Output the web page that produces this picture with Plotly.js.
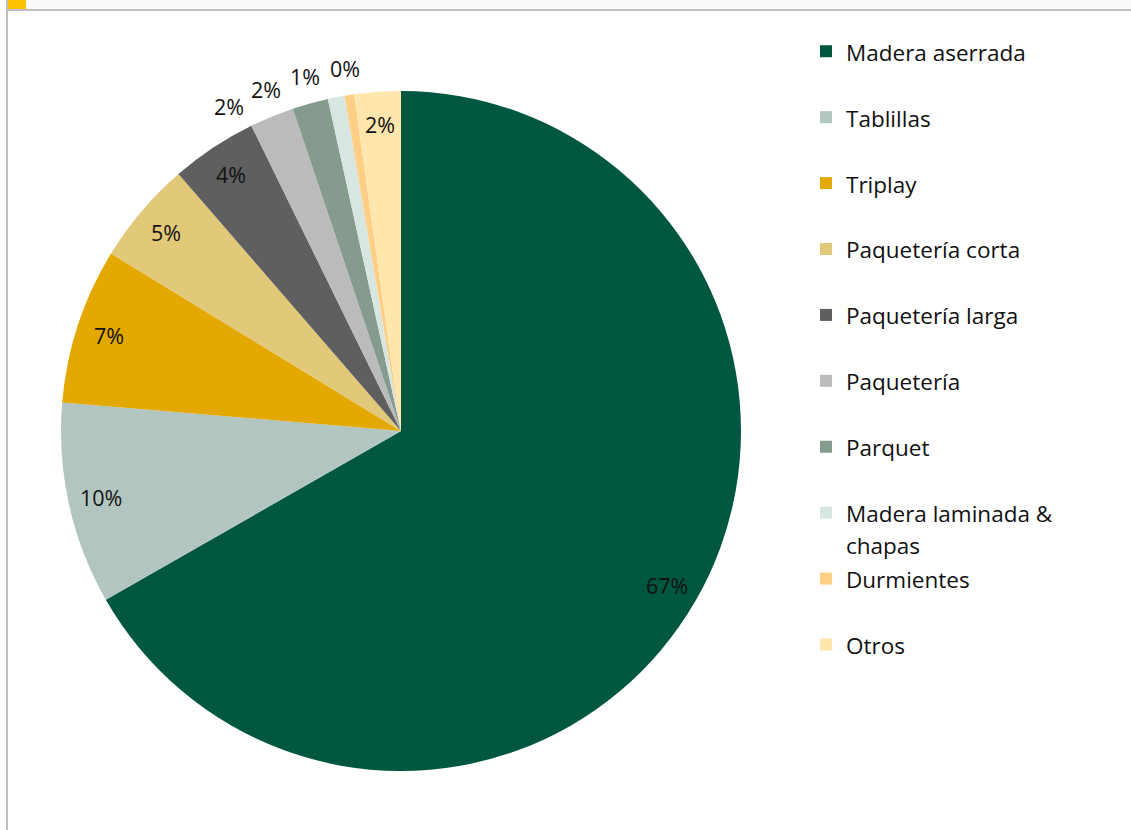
<!DOCTYPE html>
<html><head><meta charset="utf-8">
<script src="https://cdn.plot.ly/plotly-3.0.1.min.js"></script>
<style>html,body{margin:0;padding:0;background:#fff;}#chart{width:1131px;height:830px;}</style>
</head><body><div id="chart"></div>
<script>
// ---- data ----
const categories = ["Madera aserrada", "Tablillas", "Triplay", "Paquetería corta", "Paquetería larga",
  "Paquetería", "Parquet", "Madera laminada & chapas", "Durmientes", "Otros"];
const shares = [66.7, 9.6, 7.4, 4.9, 4.1, 2.1, 1.7, 0.8, 0.45, 2.2];
const sliceColors = ["#00573F", "#B3C5C0", "#E3A900", "#E2C879", "#5F5F5F",
  "#BBBBBB", "#849B8E", "#D7E6E1", "#FFCE85", "#FFE6AD"];
const labelOutside = [false, false, false, false, false, true, true, true, true, false];

// ---- layout geometry ----
const W = 1131, H = 830, CX = 401, CY = 431, R = 340;
const total = shares.reduce((a, b) => a + b, 0);

function wrap(s, n) {
  const words = s.split(" "); const lines = []; let cur = "";
  words.forEach(w => {
    if (cur && (cur + " " + w).length > n) { lines.push(cur); cur = w; }
    else cur = cur ? cur + " " + w : w;
  });
  if (cur) lines.push(cur);
  return lines;
}
const legendLabels = categories.map(c => {
  const lines = wrap(c, 18);
  while (lines.length < 2) lines.push(" ");
  return lines.map(l => '<span style="font-size:22.5px">' + l + '</span>').join("<br>");
});

// label angles (degrees clockwise from 12 o'clock)
const mids = []; let cum = 0;
shares.forEach(v => { mids.push((cum + v / 2) / total * 360); cum += v; });
const angles = mids.slice();
let nextAng = null;
for (let i = shares.length - 1; i >= 0; i--) {
  if (!labelOutside[i]) continue;
  if (nextAng !== null) angles[i] = Math.min(mids[i], nextAng - 6.4);
  nextAng = angles[i];
}
const annotations = shares.map((v, i) => {
  const r = labelOutside[i] ? R * 1.08 : R * 0.905;
  const a = angles[i] * Math.PI / 180;
  const px = CX + r * Math.sin(a), py = CY - r * Math.cos(a);
  return {
    xref: "paper", yref: "paper", x: px / W, y: 1 - py / H,
    xanchor: "center", yanchor: "middle", showarrow: false,
    text: Math.round(v / total * 100) + "%",
    font: {family: "Open Sans", size: 21.5, color: "#111"}
  };
});

function rectPx(x0, y0, x1, y1, color) {
  return {type: "rect", xref: "paper", yref: "paper", x0: x0 / W, x1: x1 / W,
    y0: 1 - y0 / H, y1: 1 - y1 / H, fillcolor: color, line: {width: 0}, layer: "above"};
}

const trace = {
  type: "pie", labels: legendLabels, values: shares, sort: false,
  direction: "clockwise", rotation: 0, textinfo: "none",
  marker: {colors: sliceColors, line: {width: 0}},
  hoverinfo: "label+percent",
  domain: {x: [(CX - R) / W, (CX + R) / W], y: [1 - (CY + R) / H, 1 - (CY - R) / H]}
};

const layout = {
  width: W, height: H, margin: {l: 0, r: 0, t: 0, b: 0},
  paper_bgcolor: "#ffffff", plot_bgcolor: "#ffffff",
  showlegend: true,
  legend: {x: 806 / W, xanchor: "left", y: 1 - 29 / H, yanchor: "top",
    font: {family: "Open Sans", size: 24.2, color: "#111"}, valign: "top",
    bgcolor: "rgba(0,0,0,0)", borderwidth: 0},
  annotations: annotations,
  shapes: [
    rectPx(26, 0, W, 9, "#FAFAFA"),
    rectPx(8, 0, 26, 9, "#FFC000"),
    rectPx(6, 9, W, 11, "#C0C0C0"),
    rectPx(6, 0, 8, H, "#C0C0C0")
  ]
};
Plotly.newPlot("chart", [trace], layout, {displayModeBar: false, staticPlot: true});
</script></body></html>
